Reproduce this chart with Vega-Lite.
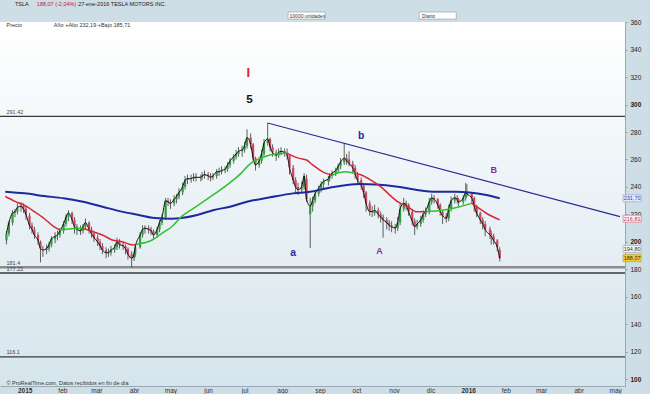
{
"$schema":"https://vega.github.io/schema/vega-lite/v6.json",
"autosize":{"type":"none"},
"width":625,"height":364,
"padding":{"left":0,"top":22,"right":25,"bottom":8},
"background":"#cddee7",
"config":{"view":{"stroke":null,"fill":{"gradient":"linear","x1":0,"y1":0,"x2":0,"y2":1,"stops":[{"offset":0,"color":"#ffffff"},{"offset":1,"color":"#d6e5ed"}]}},"text":{"font":"Liberation Sans"},"axis":{"labelOverlap":false},"axisQuantitative":{"tickCount":14},"axisTemporal":{"tickCount":{"interval":"month","step":1}}},
"resolve":{"scale":{"color":"independent","fill":"independent","stroke":"independent","size":"independent","strokeWidth":"independent"}},
"datasets":{
"cd":[
{"d":"2014-12-17","o":201,"h":208,"l":198,"c":206},{"d":"2014-12-19","o":206,"h":215,"l":204,"c":214},{"d":"2014-12-22","o":214,"h":223,"l":212,"c":221},{"d":"2014-12-24","o":221,"h":224,"l":218,"c":222},{"d":"2014-12-26","o":222,"h":228,"l":220,"c":225},{"d":"2014-12-29","o":225,"h":229,"l":222,"c":226},{"d":"2014-12-31","o":226,"h":228,"l":221,"c":224},
{"d":"2015-01-02","o":224,"h":226,"l":216,"c":220},{"d":"2015-01-05","o":219,"h":221,"l":209,"c":212},{"d":"2015-01-07","o":212,"h":214,"l":206,"c":209},{"d":"2015-01-09","o":209,"h":211,"l":202,"c":205},{"d":"2015-01-12","o":205,"h":207,"l":198,"c":201},{"d":"2015-01-14","o":200,"h":201,"l":185,"c":195},{"d":"2015-01-16","o":194,"h":197,"l":189,"c":194},{"d":"2015-01-19","o":194,"h":198,"l":191,"c":195},{"d":"2015-01-21","o":195,"h":200,"l":193,"c":198},{"d":"2015-01-23","o":198,"h":204,"l":196,"c":202},{"d":"2015-01-26","o":202,"h":207,"l":199,"c":204},{"d":"2015-01-28","o":205,"h":208,"l":201,"c":205},{"d":"2015-01-30","o":205,"h":210,"l":203,"c":208},
{"d":"2015-02-02","o":208,"h":215,"l":206,"c":213},{"d":"2015-02-04","o":213,"h":220,"l":211,"c":218},{"d":"2015-02-06","o":218,"h":223,"l":215,"c":221},{"d":"2015-02-09","o":221,"h":222,"l":213,"c":216},{"d":"2015-02-11","o":216,"h":218,"l":206,"c":211},{"d":"2015-02-13","o":211,"h":213,"l":205,"c":209},{"d":"2015-02-16","o":209,"h":212,"l":205,"c":208},{"d":"2015-02-18","o":208,"h":213,"l":206,"c":211},{"d":"2015-02-20","o":211,"h":217,"l":209,"c":214},{"d":"2015-02-23","o":214,"h":215,"l":206,"c":209},{"d":"2015-02-25","o":209,"h":211,"l":203,"c":206},{"d":"2015-02-27","o":206,"h":208,"l":200,"c":203},
{"d":"2015-03-02","o":203,"h":205,"l":197,"c":200},{"d":"2015-03-04","o":200,"h":202,"l":194,"c":197},{"d":"2015-03-06","o":197,"h":199,"l":191,"c":194},{"d":"2015-03-09","o":194,"h":196,"l":188,"c":192},{"d":"2015-03-11","o":192,"h":195,"l":189,"c":192},{"d":"2015-03-13","o":192,"h":197,"l":190,"c":194},{"d":"2015-03-16","o":194,"h":198,"l":192,"c":196},{"d":"2015-03-18","o":196,"h":203,"l":194,"c":200},{"d":"2015-03-20","o":200,"h":202,"l":195,"c":198},{"d":"2015-03-23","o":198,"h":200,"l":194,"c":197},{"d":"2015-03-25","o":197,"h":198,"l":191,"c":195},{"d":"2015-03-27","o":195,"h":196,"l":187,"c":191},{"d":"2015-03-30","o":191,"h":193,"l":181.4,"c":188},
{"d":"2015-04-01","o":188,"h":193,"l":186,"c":191},{"d":"2015-04-02","o":191,"h":198,"l":189,"c":196},{"d":"2015-04-06","o":196,"h":207,"l":195,"c":205},{"d":"2015-04-08","o":205,"h":212,"l":203,"c":209},{"d":"2015-04-10","o":209,"h":212,"l":206,"c":210},{"d":"2015-04-13","o":210,"h":212,"l":206,"c":209},{"d":"2015-04-15","o":209,"h":211,"l":205,"c":208},{"d":"2015-04-17","o":208,"h":209,"l":202,"c":205},{"d":"2015-04-20","o":205,"h":211,"l":203,"c":209},{"d":"2015-04-22","o":209,"h":216,"l":207,"c":214},{"d":"2015-04-24","o":214,"h":220,"l":212,"c":218},{"d":"2015-04-27","o":218,"h":232,"l":216,"c":230},{"d":"2015-04-29","o":230,"h":232,"l":226,"c":229},
{"d":"2015-05-01","o":229,"h":231,"l":224,"c":228},{"d":"2015-05-04","o":228,"h":234,"l":226,"c":231},{"d":"2015-05-06","o":231,"h":235,"l":228,"c":233},{"d":"2015-05-08","o":233,"h":239,"l":231,"c":236},{"d":"2015-05-11","o":236,"h":243,"l":234,"c":240},{"d":"2015-05-13","o":240,"h":248,"l":238,"c":245},{"d":"2015-05-15","o":245,"h":249,"l":242,"c":246},{"d":"2015-05-18","o":246,"h":249,"l":243,"c":246},{"d":"2015-05-20","o":246,"h":250,"l":244,"c":247},{"d":"2015-05-22","o":247,"h":250,"l":244,"c":247},{"d":"2015-05-26","o":247,"h":249,"l":244,"c":247},{"d":"2015-05-27","o":247,"h":251,"l":245,"c":248},{"d":"2015-05-29","o":248,"h":252,"l":246,"c":249},
{"d":"2015-06-01","o":249,"h":251,"l":245,"c":248},{"d":"2015-06-03","o":248,"h":250,"l":244,"c":247},{"d":"2015-06-05","o":247,"h":250,"l":245,"c":248},{"d":"2015-06-08","o":248,"h":253,"l":246,"c":251},{"d":"2015-06-10","o":251,"h":254,"l":248,"c":251},{"d":"2015-06-12","o":251,"h":255,"l":249,"c":252},{"d":"2015-06-15","o":252,"h":255,"l":250,"c":253},{"d":"2015-06-17","o":253,"h":258,"l":251,"c":256},{"d":"2015-06-19","o":256,"h":261,"l":254,"c":259},{"d":"2015-06-22","o":259,"h":264,"l":257,"c":262},{"d":"2015-06-24","o":262,"h":267,"l":260,"c":264},{"d":"2015-06-26","o":264,"h":269,"l":262,"c":266},{"d":"2015-06-29","o":266,"h":270,"l":262,"c":267},
{"d":"2015-07-01","o":267,"h":273,"l":265,"c":270},{"d":"2015-07-03","o":270,"h":282,"l":268,"c":276},{"d":"2015-07-06","o":276,"h":279,"l":268,"c":271},{"d":"2015-07-08","o":271,"h":272,"l":258,"c":261},{"d":"2015-07-10","o":261,"h":262,"l":252,"c":256},{"d":"2015-07-13","o":256,"h":262,"l":254,"c":259},{"d":"2015-07-15","o":259,"h":267,"l":257,"c":264},{"d":"2015-07-17","o":264,"h":275,"l":262,"c":272},{"d":"2015-07-20","o":272,"h":286.6,"l":270,"c":275},{"d":"2015-07-22","o":275,"h":276,"l":266,"c":269},{"d":"2015-07-24","o":269,"h":271,"l":262,"c":265},{"d":"2015-07-27","o":265,"h":267,"l":259,"c":263},{"d":"2015-07-29","o":263,"h":268,"l":261,"c":265},{"d":"2015-07-31","o":265,"h":269,"l":263,"c":266},
{"d":"2015-08-03","o":266,"h":268,"l":262,"c":265},{"d":"2015-08-05","o":265,"h":268,"l":260,"c":263},{"d":"2015-08-07","o":263,"h":264,"l":249,"c":254},{"d":"2015-08-10","o":254,"h":256,"l":242,"c":245},{"d":"2015-08-12","o":245,"h":247,"l":236,"c":240},{"d":"2015-08-14","o":240,"h":243,"l":234,"c":238},{"d":"2015-08-17","o":238,"h":244,"l":236,"c":240},{"d":"2015-08-19","o":240,"h":250,"l":238,"c":248},{"d":"2015-08-21","o":246,"h":249,"l":229,"c":231},{"d":"2015-08-24","o":220,"h":232,"l":195.5,"c":226},{"d":"2015-08-26","o":226,"h":233,"l":222,"c":230},{"d":"2015-08-28","o":230,"h":237,"l":228,"c":235},{"d":"2015-08-31","o":235,"h":241,"l":233,"c":239},
{"d":"2015-09-02","o":239,"h":244,"l":236,"c":242},{"d":"2015-09-04","o":242,"h":246,"l":239,"c":244},{"d":"2015-09-08","o":244,"h":248,"l":241,"c":246},{"d":"2015-09-09","o":246,"h":250,"l":244,"c":248},{"d":"2015-09-11","o":248,"h":252,"l":246,"c":250},{"d":"2015-09-14","o":250,"h":254,"l":248,"c":252},{"d":"2015-09-16","o":252,"h":257,"l":250,"c":255},{"d":"2015-09-18","o":255,"h":261,"l":253,"c":258},{"d":"2015-09-21","o":258,"h":272,"l":256,"c":261},{"d":"2015-09-23","o":261,"h":264,"l":256,"c":259},{"d":"2015-09-25","o":260,"h":266,"l":255,"c":257},{"d":"2015-09-28","o":257,"h":259,"l":250,"c":254},{"d":"2015-09-30","o":254,"h":256,"l":246,"c":249},
{"d":"2015-10-02","o":249,"h":251,"l":242,"c":245},{"d":"2015-10-05","o":245,"h":247,"l":238,"c":241},{"d":"2015-10-07","o":241,"h":242,"l":232,"c":236},{"d":"2015-10-09","o":236,"h":237,"l":222,"c":228},{"d":"2015-10-12","o":228,"h":230,"l":219,"c":222},{"d":"2015-10-14","o":222,"h":226,"l":218,"c":222},{"d":"2015-10-16","o":221,"h":227,"l":219,"c":223},{"d":"2015-10-19","o":223,"h":225,"l":217,"c":220},{"d":"2015-10-21","o":220,"h":222,"l":214,"c":218},{"d":"2015-10-23","o":218,"h":220,"l":203,"c":216},{"d":"2015-10-26","o":216,"h":218,"l":209,"c":214},{"d":"2015-10-28","o":214,"h":216,"l":208,"c":212},{"d":"2015-10-30","o":212,"h":215,"l":207,"c":211},
{"d":"2015-11-02","o":211,"h":213,"l":206,"c":210},{"d":"2015-11-04","o":210,"h":218,"l":208,"c":214},{"d":"2015-11-06","o":214,"h":228,"l":212,"c":224},{"d":"2015-11-09","o":224,"h":232,"l":222,"c":228},{"d":"2015-11-11","o":228,"h":230,"l":223,"c":227},{"d":"2015-11-13","o":227,"h":228,"l":219,"c":222},{"d":"2015-11-16","o":222,"h":224,"l":212,"c":215},{"d":"2015-11-18","o":215,"h":217,"l":205,"c":211},{"d":"2015-11-20","o":211,"h":216,"l":209,"c":213},{"d":"2015-11-23","o":213,"h":219,"l":211,"c":216},{"d":"2015-11-25","o":216,"h":223,"l":214,"c":220},{"d":"2015-11-27","o":220,"h":225,"l":218,"c":222},{"d":"2015-11-30","o":222,"h":232,"l":220,"c":229},
{"d":"2015-12-02","o":229,"h":235,"l":227,"c":232},{"d":"2015-12-04","o":232,"h":234,"l":228,"c":231},{"d":"2015-12-07","o":231,"h":232,"l":224,"c":227},{"d":"2015-12-09","o":227,"h":228,"l":219,"c":222},{"d":"2015-12-11","o":222,"h":223,"l":213,"c":219},{"d":"2015-12-14","o":219,"h":221,"l":214,"c":217},{"d":"2015-12-16","o":217,"h":227,"l":215,"c":224},{"d":"2015-12-18","o":224,"h":233,"l":222,"c":230},{"d":"2015-12-21","o":230,"h":235,"l":228,"c":232},{"d":"2015-12-23","o":232,"h":234,"l":228,"c":231},{"d":"2015-12-24","o":231,"h":232,"l":226,"c":229},{"d":"2015-12-28","o":229,"h":234,"l":227,"c":232},{"d":"2015-12-30","o":232,"h":243,"l":230,"c":236},{"d":"2015-12-31","o":236,"h":242,"l":233,"c":235},
{"d":"2016-01-04","o":235,"h":236,"l":228,"c":232},{"d":"2016-01-06","o":232,"h":233,"l":222,"c":226},{"d":"2016-01-08","o":226,"h":227,"l":218,"c":221},{"d":"2016-01-11","o":221,"h":222,"l":213,"c":216},{"d":"2016-01-13","o":216,"h":218,"l":209,"c":213},{"d":"2016-01-15","o":213,"h":215,"l":204,"c":209},{"d":"2016-01-19","o":209,"h":211,"l":202,"c":205},{"d":"2016-01-20","o":205,"h":208,"l":198,"c":204},{"d":"2016-01-22","o":204,"h":206,"l":198,"c":201},{"d":"2016-01-25","o":201,"h":202,"l":193,"c":196},{"d":"2016-01-27","o":194,"h":196,"l":185.71,"c":188.07}
],
"ma":[
{"d":"2014-12-16","v":233,"s":1,"k":"dn"},{"d":"2014-12-24","v":229.5,"s":1,"k":"dn"},{"d":"2015-01-01","v":226.5,"s":1,"k":"dn"},{"d":"2015-01-09","v":222,"s":1,"k":"dn"},{"d":"2015-01-17","v":217,"s":1,"k":"dn"},{"d":"2015-01-25","v":211,"s":1,"k":"dn"},{"d":"2015-01-30","v":208.6,"s":1,"k":"dn"},
{"d":"2015-01-30","v":208.6,"s":2,"k":"up"},{"d":"2015-02-08","v":209.5,"s":2,"k":"up"},{"d":"2015-02-18","v":209.8,"s":2,"k":"up"},
{"d":"2015-02-18","v":209.8,"s":3,"k":"dn"},{"d":"2015-02-26","v":207.4,"s":3,"k":"dn"},{"d":"2015-03-06","v":205,"s":3,"k":"dn"},{"d":"2015-03-14","v":201.3,"s":3,"k":"dn"},{"d":"2015-03-22","v":200.1,"s":3,"k":"dn"},{"d":"2015-03-31","v":197.7,"s":3,"k":"dn"},{"d":"2015-04-03","v":198.2,"s":3,"k":"dn"},
{"d":"2015-04-03","v":198.2,"s":4,"k":"up"},{"d":"2015-04-16","v":201.3,"s":4,"k":"up"},{"d":"2015-04-24","v":206.2,"s":4,"k":"up"},{"d":"2015-05-02","v":211,"s":4,"k":"up"},{"d":"2015-05-10","v":218.3,"s":4,"k":"up"},{"d":"2015-05-18","v":223.2,"s":4,"k":"up"},{"d":"2015-05-26","v":228,"s":4,"k":"up"},{"d":"2015-06-03","v":232.9,"s":4,"k":"up"},{"d":"2015-06-11","v":237.8,"s":4,"k":"up"},{"d":"2015-06-20","v":243.8,"s":4,"k":"up"},{"d":"2015-06-28","v":249.9,"s":4,"k":"up"},{"d":"2015-07-06","v":257.2,"s":4,"k":"up"},{"d":"2015-07-14","v":260.8,"s":4,"k":"up"},{"d":"2015-07-22","v":263.3,"s":4,"k":"up"},{"d":"2015-08-05","v":264.5,"s":4,"k":"up"},
{"d":"2015-08-05","v":264.5,"s":5,"k":"dn"},{"d":"2015-08-15","v":260.8,"s":5,"k":"dn"},{"d":"2015-08-21","v":259.6,"s":5,"k":"dn"},{"d":"2015-08-26","v":256,"s":5,"k":"dn"},{"d":"2015-09-01","v":252.3,"s":5,"k":"dn"},{"d":"2015-09-06","v":249.9,"s":5,"k":"dn"},{"d":"2015-09-11","v":248.7,"s":5,"k":"dn"},
{"d":"2015-09-11","v":248.7,"s":6,"k":"up"},{"d":"2015-09-22","v":251.1,"s":6,"k":"up"},{"d":"2015-09-30","v":249.9,"s":6,"k":"up"},
{"d":"2015-09-30","v":249.9,"s":7,"k":"dn"},{"d":"2015-10-05","v":248.7,"s":7,"k":"dn"},{"d":"2015-10-13","v":245,"s":7,"k":"dn"},{"d":"2015-10-21","v":240.2,"s":7,"k":"dn"},{"d":"2015-10-27","v":235.3,"s":7,"k":"dn"},{"d":"2015-11-04","v":229.2,"s":7,"k":"dn"},{"d":"2015-11-12","v":225.6,"s":7,"k":"dn"},{"d":"2015-11-20","v":221.9,"s":7,"k":"dn"},{"d":"2015-11-27","v":221.9,"s":7,"k":"dn"},
{"d":"2015-11-27","v":221.9,"s":8,"k":"up"},{"d":"2015-12-12","v":223.2,"s":8,"k":"up"},{"d":"2015-12-25","v":225.6,"s":8,"k":"up"},{"d":"2016-01-04","v":228,"s":8,"k":"up"},
{"d":"2016-01-04","v":228,"s":9,"k":"dn"},{"d":"2016-01-08","v":225.6,"s":9,"k":"dn"},{"d":"2016-01-16","v":220.8,"s":9,"k":"dn"},{"d":"2016-01-27","v":216,"s":9,"k":"dn"}
],
"bl":[
{"d":"2014-12-16","v":236.5},{"d":"2015-01-01","v":235.3},{"d":"2015-01-17","v":233.4},{"d":"2015-02-02","v":231.7},{"d":"2015-02-18","v":229.2},{"d":"2015-03-06","v":225.6},{"d":"2015-03-22","v":222},{"d":"2015-04-05","v":219.5},{"d":"2015-04-16","v":217.5},{"d":"2015-05-02","v":216.8},{"d":"2015-05-10","v":217.3},{"d":"2015-05-23","v":219.5},{"d":"2015-06-05","v":223},{"d":"2015-06-19","v":225.6},{"d":"2015-07-03","v":229.2},{"d":"2015-07-22","v":232.4},{"d":"2015-08-10","v":235.3},{"d":"2015-08-24","v":236.5},{"d":"2015-09-06","v":238.9},{"d":"2015-09-22","v":241.2},{"d":"2015-10-04","v":242.1},{"d":"2015-10-17","v":241.8},{"d":"2015-11-04","v":240.2},{"d":"2015-11-20","v":237.8},{"d":"2015-12-06","v":236.5},{"d":"2015-12-22","v":236.5},{"d":"2016-01-02","v":236},{"d":"2016-01-16","v":234.1},{"d":"2016-01-27","v":231.7}
],
"tr":[{"d":"2015-07-20","v":286.6},{"d":"2016-05-05","v":218.3}],
"lv":[{"v":291.42,"t":"291.42","k":"d"},{"v":181.4,"t":"181.4","k":"g"},{"v":177.22,"t":"177.22","k":"d"},{"v":116.1,"t":"116.1","k":"d"}],
"an":[{"d":"2015-07-04","v":323,"t":"I","k":"r"},{"d":"2015-07-05","v":303.4,"t":"5","k":"k"},{"d":"2015-08-10","v":191.8,"t":"a","k":"b"},{"d":"2015-10-05","v":277.1,"t":"b","k":"b"},{"d":"2015-10-20","v":193.3,"t":"A","k":"p"},{"d":"2016-01-22","v":252.3,"t":"B","k":"p"}],
"tg":[{"d":"2016-05-15","v":231.7,"t":"231,70","k":"bl"},{"d":"2016-05-15","v":216.81,"t":"216,81","k":"ma"},{"d":"2016-05-15","v":194.8,"t":"194,80","k":"sm"},{"d":"2016-05-15","v":188.07,"t":"188,07","k":"px"}],
"hd":[{"d":"2014-12-17","v":358.3,"t":"Precio","k":"n"},{"d":"2015-01-25","v":358.3,"t":"Año +Alto 232,19 +Bajo 185,71","k":"n"},{"d":"2014-12-17","v":97.3,"t":"© ProRealTime.com, Datos recibidos en fin de día","k":"n"},{"d":"2014-12-24","v":373.3,"t":"TSLA","k":"h"},{"d":"2015-01-11","v":373.3,"t":"188,07 (-2,04%)","k":"r"},{"d":"2015-02-14","v":373.3,"t":"27-ene-2016  TESLA MOTORS INC.","k":"h"}],
"ui":[{"b":"2015-08-21","x":"2015-08-07","v":364.9,"t":"10000 unidades"},{"b":"2015-12-07","x":"2015-11-24","v":364.9,"t":"Diario"}]
},
"layer":[
{"data":{"name":"lv"},"mark":{"type":"rule"},
 "encoding":{"y":{"field":"v","type":"quantitative","title":null,"scale":{"domain":[94.9,360.2],"nice":false,"zero":false},"axis":{"title":null,"orient":"right","values":[100,120,140,160,180,200,220,240,260,280,300,320,340,360],"tickCount":14,"labelOverlap":false,"labelFontSize":6.5,"labelFont":"Liberation Sans","labelColor":"#222","tickSize":2,"tickColor":"#8a9ca6","labelPadding":3,"domainColor":"#9aaab3","grid":false,"labelFontWeight":{"condition":{"test":"datum.value % 100 == 0","value":"bold"},"value":"normal"}}},
  "color":{"field":"k","type":"nominal","scale":{"domain":["d","g"],"range":["#3a3a3a","#8c8c8c"]},"legend":null},
  "strokeWidth":{"field":"k","type":"nominal","scale":{"domain":["d","g"],"range":[1.4,2.6]},"legend":null}}},
{"data":{"name":"lv"},"mark":{"type":"text","align":"left","baseline":"bottom","dy":-1.5,"fontSize":5.5,"color":"#444"},
 "encoding":{"x":{"datum":{"year":2014,"month":12,"date":17,"utc":true},"type":"temporal","title":null,"scale":{"type":"utc","domain":[{"year":2014,"month":12,"date":15,"hours":19,"utc":true},{"year":2016,"month":5,"date":5,"utc":true}]},"axis":{"title":null,"tickCount":{"interval":"month","step":1},"labelExpr":"utcmonth(datum.value)==0 ? ''+utcyear(datum.value) : ['ene','feb','mar','abr','may','jun','jul','ago','sep','oct','nov','dic'][utcmonth(datum.value)]","labelFontSize":6.5,"labelFont":"Liberation Sans","labelColor":"#333","ticks":false,"labelPadding":1,"domainColor":"#9aaab3","grid":false,"labelOverlap":false,"labelFontWeight":{"condition":{"test":"utcmonth(datum.value)==0","value":"bold"},"value":"normal"}}},
  "y":{"field":"v","type":"quantitative","title":null,"scale":{"domain":[94.9,360.2],"nice":false,"zero":false}},
  "text":{"field":"t"}}},
{"data":{"name":"cd"},"mark":{"type":"rule","strokeWidth":0.8,"color":"#3a3a3a"},
 "encoding":{"x":{"field":"d","type":"temporal","title":null,"scale":{"type":"utc","domain":[{"year":2014,"month":12,"date":15,"hours":19,"utc":true},{"year":2016,"month":5,"date":5,"utc":true}]}},
  "y":{"field":"l","type":"quantitative","title":null,"scale":{"domain":[94.9,360.2],"nice":false,"zero":false}},"y2":{"field":"h"}}},
{"data":{"name":"cd"},"mark":{"type":"bar","width":2.2},
 "encoding":{"x":{"field":"d","type":"temporal","title":null,"scale":{"type":"utc","domain":[{"year":2014,"month":12,"date":15,"hours":19,"utc":true},{"year":2016,"month":5,"date":5,"utc":true}]}},
  "y":{"field":"o","type":"quantitative","title":null,"scale":{"domain":[94.9,360.2],"nice":false,"zero":false}},"y2":{"field":"c"},
  "color":{"condition":{"test":"datum.c >= datum.o","value":"#2f9e3c"},"value":"#d2455e"}}},
{"data":{"name":"cd"},"mark":{"type":"line","strokeWidth":1,"color":"#111","interpolate":"monotone"},
 "encoding":{"x":{"field":"d","type":"temporal","title":null,"scale":{"type":"utc","domain":[{"year":2014,"month":12,"date":15,"hours":19,"utc":true},{"year":2016,"month":5,"date":5,"utc":true}]}},
  "y":{"field":"c","type":"quantitative","title":null,"scale":{"domain":[94.9,360.2],"nice":false,"zero":false}}}},
{"data":{"name":"bl"},"mark":{"type":"line","strokeWidth":2,"color":"#1c2a9c","interpolate":"monotone"},
 "encoding":{"x":{"field":"d","type":"temporal","title":null,"scale":{"type":"utc","domain":[{"year":2014,"month":12,"date":15,"hours":19,"utc":true},{"year":2016,"month":5,"date":5,"utc":true}]}},
  "y":{"field":"v","type":"quantitative","title":null,"scale":{"domain":[94.9,360.2],"nice":false,"zero":false}}}},
{"data":{"name":"ma"},"mark":{"type":"line","strokeWidth":1.5,"interpolate":"monotone"},
 "encoding":{"x":{"field":"d","type":"temporal","title":null,"scale":{"type":"utc","domain":[{"year":2014,"month":12,"date":15,"hours":19,"utc":true},{"year":2016,"month":5,"date":5,"utc":true}]}},
  "y":{"field":"v","type":"quantitative","title":null,"scale":{"domain":[94.9,360.2],"nice":false,"zero":false}},
  "detail":{"field":"s","type":"nominal"},
  "color":{"field":"k","type":"nominal","scale":{"domain":["up","dn"],"range":["#2fc02f","#d72638"]},"legend":null}}},
{"data":{"name":"tr"},"mark":{"type":"line","strokeWidth":1.2,"color":"#2b2b94"},
 "encoding":{"x":{"field":"d","type":"temporal","title":null,"scale":{"type":"utc","domain":[{"year":2014,"month":12,"date":15,"hours":19,"utc":true},{"year":2016,"month":5,"date":5,"utc":true}]}},
  "y":{"field":"v","type":"quantitative","title":null,"scale":{"domain":[94.9,360.2],"nice":false,"zero":false}}}},
{"data":{"name":"an"},"mark":{"type":"text","fontWeight":"bold","font":"Liberation Sans"},
 "encoding":{"x":{"field":"d","type":"temporal","title":null,"scale":{"type":"utc","domain":[{"year":2014,"month":12,"date":15,"hours":19,"utc":true},{"year":2016,"month":5,"date":5,"utc":true}]}},
  "y":{"field":"v","type":"quantitative","title":null,"scale":{"domain":[94.9,360.2],"nice":false,"zero":false}},
  "text":{"field":"t"},
  "color":{"field":"k","type":"nominal","scale":{"domain":["r","k","b","p"],"range":["#e0201c","#111111","#2a2a9c","#8a2aa8"]},"legend":null},
  "size":{"field":"k","type":"ordinal","scale":{"domain":["r","k","b","p"],"range":[13,9,8.5,9]},"legend":null}}},
{"data":{"name":"tg"},"mark":{"type":"point","filled":true,"shape":"M-1,-0.39H1V0.39H-1Z","size":324,"strokeWidth":0.6,"opacity":1},
 "encoding":{"x":{"field":"d","type":"temporal","title":null,"scale":{"type":"utc","domain":[{"year":2014,"month":12,"date":15,"hours":19,"utc":true},{"year":2016,"month":5,"date":5,"utc":true}]}},
  "y":{"field":"v","type":"quantitative","title":null,"scale":{"domain":[94.9,360.2],"nice":false,"zero":false}},
  "fill":{"field":"k","type":"nominal","scale":{"domain":["bl","ma","sm","px"],"range":["#e4eaf8","#fdf0f3","#f4f6f7","#f2d03a"]},"legend":null},
  "stroke":{"field":"k","type":"nominal","scale":{"domain":["bl","ma","sm","px"],"range":["#8e9ad6","#d8607e","#9aa0a4","#b8981e"]},"legend":null}}},
{"data":{"name":"tg"},"mark":{"type":"text","fontSize":5.5},
 "encoding":{"x":{"field":"d","type":"temporal","title":null,"scale":{"type":"utc","domain":[{"year":2014,"month":12,"date":15,"hours":19,"utc":true},{"year":2016,"month":5,"date":5,"utc":true}]}},
  "y":{"field":"v","type":"quantitative","title":null,"scale":{"domain":[94.9,360.2],"nice":false,"zero":false}},
  "text":{"field":"t"},
  "color":{"field":"k","type":"nominal","scale":{"domain":["bl","ma","sm","px"],"range":["#2a3aa8","#c8305a","#333333","#222222"]},"legend":null}}},
{"data":{"name":"hd"},"mark":{"type":"text","align":"left"},
 "encoding":{"x":{"field":"d","type":"temporal","title":null,"scale":{"type":"utc","domain":[{"year":2014,"month":12,"date":15,"hours":19,"utc":true},{"year":2016,"month":5,"date":5,"utc":true}]}},
  "y":{"field":"v","type":"quantitative","title":null,"scale":{"domain":[94.9,360.2],"nice":false,"zero":false}},
  "text":{"field":"t"},
  "color":{"field":"k","type":"nominal","scale":{"domain":["n","h","r"],"range":["#333333","#1a1a1a","#c0182c"]},"legend":null},
  "size":{"field":"k","type":"ordinal","scale":{"domain":["n","h","r"],"range":[5.5,5.5,5.2]},"legend":null}}},
{"data":{"name":"ui"},"mark":{"type":"point","filled":true,"shape":"M-1,-0.19H1V0.19H-1Z","size":1369,"fill":"#ffffff","stroke":"#8a9aa4","strokeWidth":0.6,"opacity":1},
 "encoding":{"x":{"field":"b","type":"temporal","title":null,"scale":{"type":"utc","domain":[{"year":2014,"month":12,"date":15,"hours":19,"utc":true},{"year":2016,"month":5,"date":5,"utc":true}]}},
  "y":{"field":"v","type":"quantitative","title":null,"scale":{"domain":[94.9,360.2],"nice":false,"zero":false}}}},
{"data":{"name":"ui"},"mark":{"type":"text","align":"left","fontSize":5,"color":"#333"},
 "encoding":{"x":{"field":"x","type":"temporal","title":null,"scale":{"type":"utc","domain":[{"year":2014,"month":12,"date":15,"hours":19,"utc":true},{"year":2016,"month":5,"date":5,"utc":true}]}},
  "y":{"field":"v","type":"quantitative","title":null,"scale":{"domain":[94.9,360.2],"nice":false,"zero":false}},
  "text":{"field":"t"}}}
]
}
